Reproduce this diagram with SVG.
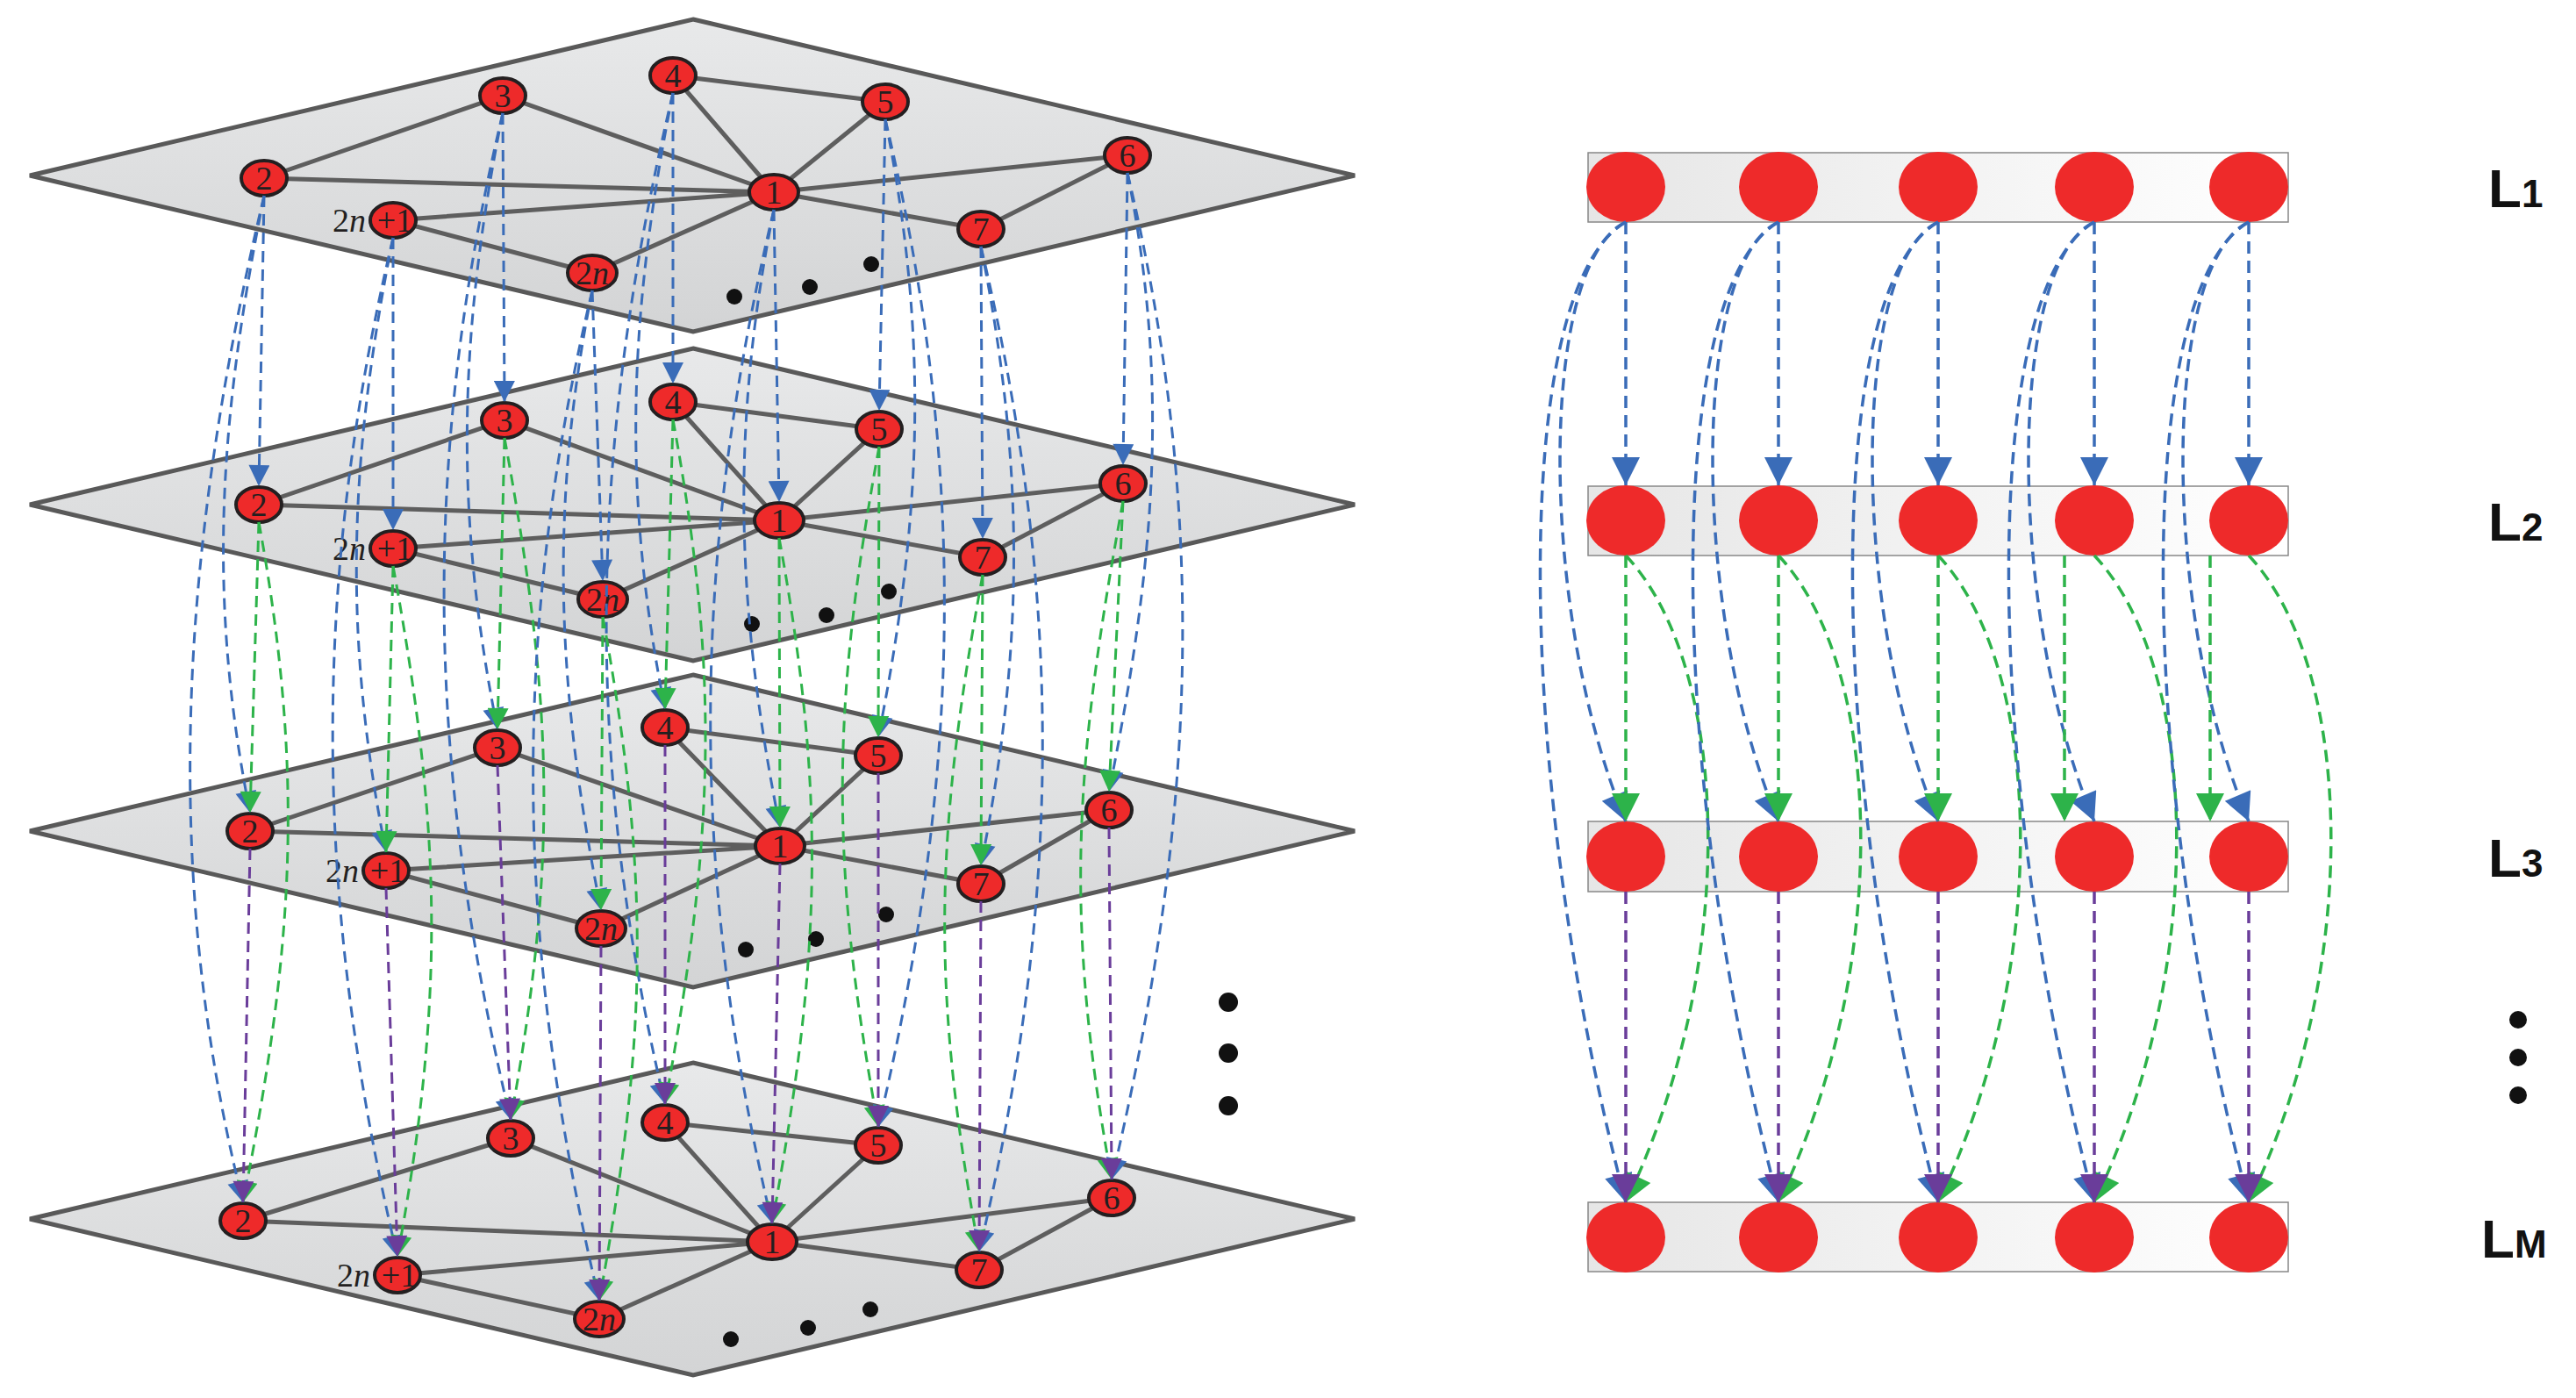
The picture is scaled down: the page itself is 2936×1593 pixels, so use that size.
<svg xmlns="http://www.w3.org/2000/svg" width="2936" height="1593" viewBox="0 0 2936 1593">
<defs>
<linearGradient id="pg" x1="0" y1="0" x2="0" y2="1"><stop offset="0" stop-color="#e8e9ea"/><stop offset="1" stop-color="#d3d4d5"/></linearGradient>
<linearGradient id="bg" x1="0" y1="0" x2="1" y2="0"><stop offset="0" stop-color="#e6e6e6"/><stop offset="1" stop-color="#ffffff"/></linearGradient>
<marker id="mb" viewBox="0 0 10 10" refX="10" refY="5" markerUnits="userSpaceOnUse" markerWidth="30" markerHeight="24" orient="auto"><path d="M0,0 L10,5 L0,10 z" fill="#3a6cb8"/></marker>
<marker id="mg" viewBox="0 0 10 10" refX="10" refY="5" markerUnits="userSpaceOnUse" markerWidth="30" markerHeight="24" orient="auto"><path d="M0,0 L10,5 L0,10 z" fill="#2db34a"/></marker>
<marker id="mp" viewBox="0 0 10 10" refX="10" refY="5" markerUnits="userSpaceOnUse" markerWidth="30" markerHeight="24" orient="auto"><path d="M0,0 L10,5 L0,10 z" fill="#6a3d9a"/></marker>
<marker id="Mb" viewBox="0 0 10 10" refX="10" refY="5" markerUnits="userSpaceOnUse" markerWidth="38" markerHeight="32" orient="auto"><path d="M0,0 L10,5 L0,10 z" fill="#3a6cb8"/></marker>
<marker id="Mg" viewBox="0 0 10 10" refX="10" refY="5" markerUnits="userSpaceOnUse" markerWidth="38" markerHeight="32" orient="auto"><path d="M0,0 L10,5 L0,10 z" fill="#2db34a"/></marker>
<marker id="Mp" viewBox="0 0 10 10" refX="10" refY="5" markerUnits="userSpaceOnUse" markerWidth="38" markerHeight="32" orient="auto"><path d="M0,0 L10,5 L0,10 z" fill="#6a3d9a"/></marker>
</defs>
<style>
.plane{fill:url(#pg);stroke:#595959;stroke-width:5}
.e{stroke:#5e5e5e;stroke-width:5;fill:none}
.n{fill:#ee2a2a;stroke:#231f20;stroke-width:4}
.t{font-family:"Liberation Serif",serif;font-size:38px;text-anchor:middle;fill:#231f20}
.dot{fill:#111}
.c{fill:none;stroke-width:3;stroke-dasharray:13 8}
.b{stroke:#3a6cb8;marker-end:url(#mb)}
.g{stroke:#2db34a;marker-end:url(#mg)}
.p{stroke:#6a3d9a;marker-end:url(#mp)}
.B{stroke:#3a6cb8;marker-end:url(#Mb)}
.G{stroke:#2db34a;marker-end:url(#Mg)}
.P{stroke:#6a3d9a;marker-end:url(#Mp)}
.C{fill:none;stroke-width:3.5;stroke-dasharray:14 8}
.bar{fill:url(#bg);stroke:#888;stroke-width:1.5}
.rn{fill:#ee2a2a}
.lb{font-family:"Liberation Sans",sans-serif;font-weight:bold;font-size:62px;fill:#111}
</style>

<g id="plane1">
<polygon class="plane" points="790,22 1544,200 790,378 34,200"/>
<path class="e" d="M301 203 L573 109 L882 219 Z M767 86 L1009 116 L882 219 Z M1285 177 L882 219 M1285 177 L1118 261 L882 219 M448 251 L882 219 M448 251 L675 311 L882 219"/>
<circle class="dot" cx="993" cy="301" r="9"/><circle class="dot" cx="923" cy="327" r="9"/><circle class="dot" cx="837" cy="338" r="9"/>
<ellipse class="n" cx="301" cy="203" rx="26" ry="20"/><text class="t" x="301" y="216">2</text>
<ellipse class="n" cx="573" cy="109" rx="26" ry="20"/><text class="t" x="573" y="122">3</text>
<ellipse class="n" cx="767" cy="86" rx="26" ry="20"/><text class="t" x="767" y="99">4</text>
<ellipse class="n" cx="1009" cy="116" rx="26" ry="20"/><text class="t" x="1009" y="129">5</text>
<ellipse class="n" cx="1285" cy="177" rx="26" ry="20"/><text class="t" x="1285" y="190">6</text>
<ellipse class="n" cx="882" cy="219" rx="28" ry="20"/><text class="t" x="882" y="232">1</text>
<ellipse class="n" cx="1118" cy="261" rx="26" ry="20"/><text class="t" x="1118" y="274">7</text>
<ellipse class="n" cx="448" cy="251" rx="26" ry="20"/><text class="t" x="450" y="264">+1</text><text class="t" x="398" y="264">2<tspan font-style="italic">n</tspan></text>
<ellipse class="n" cx="675" cy="311" rx="28" ry="20"/><text class="t" x="675" y="324">2<tspan font-style="italic">n</tspan></text>
</g>

<g id="plane2">
<polygon class="plane" points="790,397 1544,575 790,753 34,575"/>
<path class="e" d="M295 575 L575 479 L888 593 Z M767 458 L1002 489 L888 593 Z M1280 551 L888 593 M1280 551 L1120 635 L888 593 M448 625 L888 593 M448 625 L687 683 L888 593"/>
<circle class="dot" cx="1013" cy="674" r="9"/><circle class="dot" cx="942" cy="701" r="9"/><circle class="dot" cx="857" cy="711" r="9"/>
<ellipse class="n" cx="295" cy="575" rx="26" ry="20"/><text class="t" x="295" y="588">2</text>
<ellipse class="n" cx="575" cy="479" rx="26" ry="20"/><text class="t" x="575" y="492">3</text>
<ellipse class="n" cx="767" cy="458" rx="26" ry="20"/><text class="t" x="767" y="471">4</text>
<ellipse class="n" cx="1002" cy="489" rx="26" ry="20"/><text class="t" x="1002" y="502">5</text>
<ellipse class="n" cx="1280" cy="551" rx="26" ry="20"/><text class="t" x="1280" y="564">6</text>
<ellipse class="n" cx="888" cy="593" rx="28" ry="20"/><text class="t" x="888" y="606">1</text>
<ellipse class="n" cx="1120" cy="635" rx="26" ry="20"/><text class="t" x="1120" y="648">7</text>
<ellipse class="n" cx="448" cy="625" rx="26" ry="20"/><text class="t" x="450" y="638">+1</text><text class="t" x="398" y="638">2<tspan font-style="italic">n</tspan></text>
<ellipse class="n" cx="687" cy="683" rx="28" ry="20"/><text class="t" x="687" y="696">2<tspan font-style="italic">n</tspan></text>
</g>

<g id="plane3">
<polygon class="plane" points="790,769 1544,947 790,1125 34,947"/>
<path class="e" d="M285 947 L567 852 L889 964 Z M758 829 L1001 861 L889 964 Z M1264 923 L889 964 M1264 923 L1118 1007 L889 964 M440 992 L889 964 M440 992 L685 1058 L889 964"/>
<circle class="dot" cx="1010" cy="1042" r="9"/><circle class="dot" cx="930" cy="1070" r="9"/><circle class="dot" cx="850" cy="1082" r="9"/>
<ellipse class="n" cx="285" cy="947" rx="26" ry="20"/><text class="t" x="285" y="960">2</text>
<ellipse class="n" cx="567" cy="852" rx="26" ry="20"/><text class="t" x="567" y="865">3</text>
<ellipse class="n" cx="758" cy="829" rx="26" ry="20"/><text class="t" x="758" y="842">4</text>
<ellipse class="n" cx="1001" cy="861" rx="26" ry="20"/><text class="t" x="1001" y="874">5</text>
<ellipse class="n" cx="1264" cy="923" rx="26" ry="20"/><text class="t" x="1264" y="936">6</text>
<ellipse class="n" cx="889" cy="964" rx="28" ry="20"/><text class="t" x="889" y="977">1</text>
<ellipse class="n" cx="1118" cy="1007" rx="26" ry="20"/><text class="t" x="1118" y="1020">7</text>
<ellipse class="n" cx="440" cy="992" rx="26" ry="20"/><text class="t" x="442" y="1005">+1</text><text class="t" x="390" y="1005">2<tspan font-style="italic">n</tspan></text>
<ellipse class="n" cx="685" cy="1058" rx="28" ry="20"/><text class="t" x="685" y="1071">2<tspan font-style="italic">n</tspan></text>
</g>

<g id="plane4">
<polygon class="plane" points="790,1211 1544,1389 790,1567 34,1389"/>
<path class="e" d="M277 1391 L582 1297 L880 1415 Z M758 1279 L1001 1305 L880 1415 Z M1267 1365 L880 1415 M1267 1365 L1116 1447 L880 1415 M453 1453 L880 1415 M453 1453 L683 1503 L880 1415"/>
<circle class="dot" cx="992" cy="1492" r="9"/><circle class="dot" cx="921" cy="1513" r="9"/><circle class="dot" cx="833" cy="1526" r="9"/>
<ellipse class="n" cx="277" cy="1391" rx="26" ry="20"/><text class="t" x="277" y="1404">2</text>
<ellipse class="n" cx="582" cy="1297" rx="26" ry="20"/><text class="t" x="582" y="1310">3</text>
<ellipse class="n" cx="758" cy="1279" rx="26" ry="20"/><text class="t" x="758" y="1292">4</text>
<ellipse class="n" cx="1001" cy="1305" rx="26" ry="20"/><text class="t" x="1001" y="1318">5</text>
<ellipse class="n" cx="1267" cy="1365" rx="26" ry="20"/><text class="t" x="1267" y="1378">6</text>
<ellipse class="n" cx="880" cy="1415" rx="28" ry="20"/><text class="t" x="880" y="1428">1</text>
<ellipse class="n" cx="1116" cy="1447" rx="26" ry="20"/><text class="t" x="1116" y="1460">7</text>
<ellipse class="n" cx="453" cy="1453" rx="26" ry="20"/><text class="t" x="455" y="1466">+1</text><text class="t" x="403" y="1466">2<tspan font-style="italic">n</tspan></text>
<ellipse class="n" cx="683" cy="1503" rx="28" ry="20"/><text class="t" x="683" y="1516">2<tspan font-style="italic">n</tspan></text>
</g>

<g id="left-dots"><circle class="dot" cx="1400" cy="1142" r="11"/><circle class="dot" cx="1400" cy="1200" r="11"/><circle class="dot" cx="1400" cy="1260" r="11"/></g>

<g id="connectors-left">
<path class="c b" d="M301 223 L295 554"/>
<path class="c b" d="M301 223 C251 473 235 676 285 926"/>
<path class="c b" d="M301 223 C206 623 182 991 277 1370"/>
<path class="c g" d="M295 595 L285 926"/>
<path class="c g" d="M295 595 C350 895 332 1091 277 1370"/>
<path class="c p" d="M285 967 L277 1370"/>

<path class="c b" d="M573 129 L575 458"/>
<path class="c b" d="M573 129 C523 379 517 581 567 831"/>
<path class="c b" d="M573 129 C478 529 487 876 582 1276"/>
<path class="c g" d="M575 499 L567 831"/>
<path class="c g" d="M575 499 C630 799 637 976 582 1276"/>
<path class="c p" d="M567 872 L582 1276"/>

<path class="c b" d="M767 106 L767 437"/>
<path class="c b" d="M767 106 C717 356 708 558 758 808"/>
<path class="c b" d="M767 106 C672 506 663 858 758 1258"/>
<path class="c g" d="M767 478 L758 808"/>
<path class="c g" d="M767 478 C822 778 813 958 758 1258"/>
<path class="c p" d="M758 849 L758 1258"/>

<path class="c b" d="M882 239 L888 572"/>
<path class="c b" d="M882 239 C832 489 839 693 889 943"/>
<path class="c b" d="M882 239 C787 639 785 994 880 1394"/>
<path class="c g" d="M888 613 L889 943"/>
<path class="c g" d="M888 613 C943 913 935 1094 880 1394"/>
<path class="c p" d="M889 984 L880 1394"/>

<path class="c b" d="M448 271 L448 604"/>
<path class="c b" d="M448 271 C398 521 390 721 440 971"/>
<path class="c b" d="M448 271 C353 671 358 1032 453 1432"/>
<path class="c g" d="M448 645 L440 971"/>
<path class="c g" d="M448 645 C503 945 508 1132 453 1432"/>
<path class="c p" d="M440 1012 L453 1432"/>

<path class="c b" d="M675 331 L687 662"/>
<path class="c b" d="M675 331 C625 581 635 787 685 1037"/>
<path class="c b" d="M675 331 C580 731 588 1082 683 1482"/>
<path class="c g" d="M687 703 L685 1037"/>
<path class="c g" d="M687 703 C742 1003 738 1182 683 1482"/>
<path class="c p" d="M685 1078 L683 1482"/>

<path class="c b" d="M1009 136 L1002 468"/>
<path class="c b" d="M1009 136 C1059 386 1051 590 1001 840"/>
<path class="c b" d="M1009 136 C1104 536 1096 884 1001 1284"/>
<path class="c g" d="M1002 509 L1001 840"/>
<path class="c g" d="M1002 509 C947 809 946 984 1001 1284"/>
<path class="c p" d="M1001 881 L1001 1284"/>

<path class="c b" d="M1285 197 L1280 530"/>
<path class="c b" d="M1285 197 C1335 447 1314 652 1264 902"/>
<path class="c b" d="M1285 197 C1380 597 1362 944 1267 1344"/>
<path class="c g" d="M1280 571 L1264 902"/>
<path class="c g" d="M1280 571 C1225 871 1212 1044 1267 1344"/>
<path class="c p" d="M1264 943 L1267 1344"/>

<path class="c b" d="M1118 281 L1120 614"/>
<path class="c b" d="M1118 281 C1168 531 1168 736 1118 986"/>
<path class="c b" d="M1118 281 C1213 681 1211 1026 1116 1426"/>
<path class="c g" d="M1120 655 L1118 986"/>
<path class="c g" d="M1120 655 C1065 955 1061 1126 1116 1426"/>
<path class="c p" d="M1118 1027 L1116 1426"/>
</g>

<g id="layers-right">
<rect class="bar" x="1810" y="174" width="798" height="79"/>
<rect class="bar" x="1810" y="554" width="798" height="79"/>
<rect class="bar" x="1810" y="936" width="798" height="80"/>
<rect class="bar" x="1810" y="1370" width="798" height="79"/>
<g id="right-nodes">
<ellipse class="rn" cx="1853" cy="213" rx="45" ry="40"/><ellipse class="rn" cx="2027" cy="213" rx="45" ry="40"/><ellipse class="rn" cx="2209" cy="213" rx="45" ry="40"/><ellipse class="rn" cx="2387" cy="213" rx="45" ry="40"/><ellipse class="rn" cx="2563" cy="213" rx="45" ry="40"/>
<ellipse class="rn" cx="1853" cy="593" rx="45" ry="40"/><ellipse class="rn" cx="2027" cy="593" rx="45" ry="40"/><ellipse class="rn" cx="2209" cy="593" rx="45" ry="40"/><ellipse class="rn" cx="2387" cy="593" rx="45" ry="40"/><ellipse class="rn" cx="2563" cy="593" rx="45" ry="40"/>
<ellipse class="rn" cx="1853" cy="976" rx="45" ry="40"/><ellipse class="rn" cx="2027" cy="976" rx="45" ry="40"/><ellipse class="rn" cx="2209" cy="976" rx="45" ry="40"/><ellipse class="rn" cx="2387" cy="976" rx="45" ry="40"/><ellipse class="rn" cx="2563" cy="976" rx="45" ry="40"/>
<ellipse class="rn" cx="1853" cy="1410" rx="45" ry="40"/><ellipse class="rn" cx="2027" cy="1410" rx="45" ry="40"/><ellipse class="rn" cx="2209" cy="1410" rx="45" ry="40"/><ellipse class="rn" cx="2387" cy="1410" rx="45" ry="40"/><ellipse class="rn" cx="2563" cy="1410" rx="45" ry="40"/>
</g>
<text class="lb" x="2836" y="236">L<tspan font-size="44">1</tspan></text>
<text class="lb" x="2836" y="616">L<tspan font-size="44">2</tspan></text>
<text class="lb" x="2836" y="999">L<tspan font-size="44">3</tspan></text>
<text class="lb" x="2828" y="1433">L<tspan font-size="44">M</tspan></text>
<circle class="dot" cx="2870" cy="1162" r="10"/><circle class="dot" cx="2870" cy="1205" r="10"/><circle class="dot" cx="2870" cy="1248" r="10"/>
</g>

<g id="connectors-right">
<path class="C B" d="M1853 253 L1853 553"/><path class="C B" d="M1853 253 C1753 300 1753 700 1853 936"/><path class="C B" d="M1853 253 C1718 330 1728 900 1853 1370"/><path class="C G" d="M1853 633 L1853 936"/><path class="C G" d="M1853 633 C1973 760 1983 1100 1853 1370"/><path class="C P" d="M1853 1016 L1853 1370"/>
<path class="C B" d="M2027 253 L2027 553"/><path class="C B" d="M2027 253 C1927 300 1927 700 2027 936"/><path class="C B" d="M2027 253 C1892 330 1902 900 2027 1370"/><path class="C G" d="M2027 633 L2027 936"/><path class="C G" d="M2027 633 C2147 760 2157 1100 2027 1370"/><path class="C P" d="M2027 1016 L2027 1370"/>
<path class="C B" d="M2209 253 L2209 553"/><path class="C B" d="M2209 253 C2109 300 2109 700 2209 936"/><path class="C B" d="M2209 253 C2074 330 2084 900 2209 1370"/><path class="C G" d="M2209 633 L2209 936"/><path class="C G" d="M2209 633 C2329 760 2339 1100 2209 1370"/><path class="C P" d="M2209 1016 L2209 1370"/>
<path class="C B" d="M2387 253 L2387 553"/><path class="C B" d="M2387 253 C2287 300 2287 700 2387 936"/><path class="C B" d="M2387 253 C2252 330 2262 900 2387 1370"/><path class="C G" d="M2353 633 L2353 936"/><path class="C G" d="M2387 633 C2507 760 2517 1100 2387 1370"/><path class="C P" d="M2387 1016 L2387 1370"/>
<path class="C B" d="M2563 253 L2563 553"/><path class="C B" d="M2563 253 C2463 300 2463 700 2563 936"/><path class="C B" d="M2563 253 C2428 330 2438 900 2563 1370"/><path class="C G" d="M2519 633 L2519 936"/><path class="C G" d="M2563 633 C2683 760 2693 1100 2563 1370"/><path class="C P" d="M2563 1016 L2563 1370"/>
</g>
</svg>
